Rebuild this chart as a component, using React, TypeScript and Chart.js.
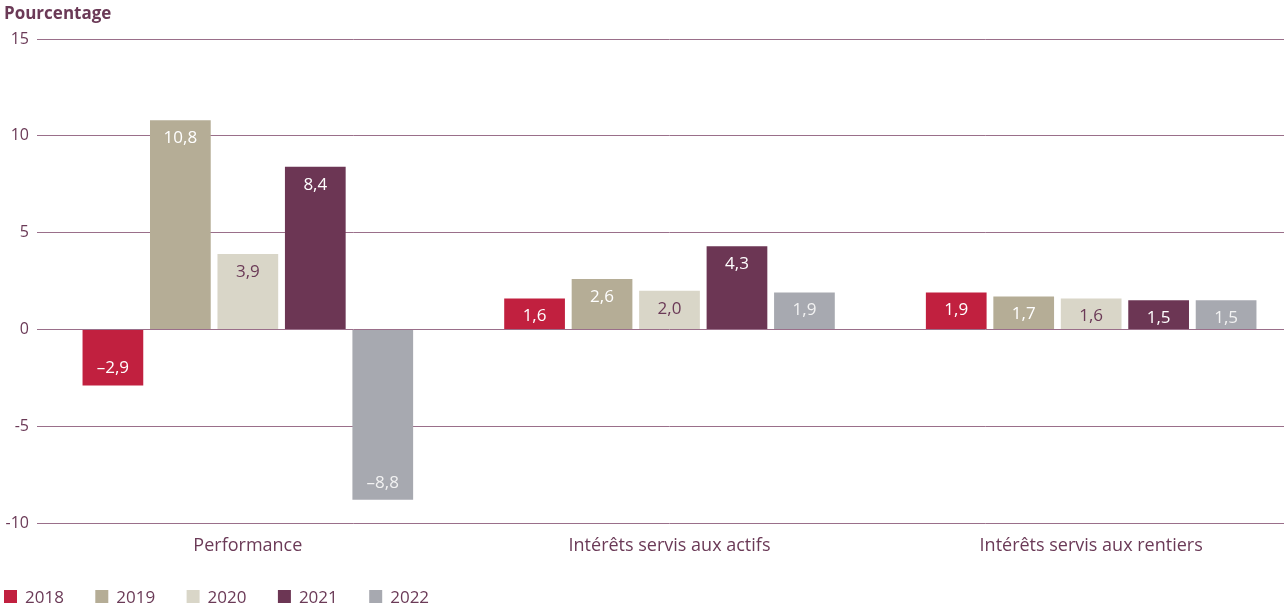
import React, { useEffect, useRef } from "react";
import { Chart, registerables } from "chart.js";

Chart.register(...registerables);

const categories = ["Performance", "Intérêts servis aux actifs", "Intérêts servis aux rentiers"];
const years = ["2018", "2019", "2020", "2021", "2022"];
const v2018 = [-2.9, 1.6, 1.9];
const v2019 = [10.8, 2.6, 1.7];
const v2020 = [3.9, 2.0, 1.6];
const v2021 = [8.4, 4.3, 1.5];
const v2022 = [-8.8, 1.9, 1.5];
const barColors = ["#c1203f", "#b5ad96", "#d9d6c8", "#6c3654", "#a7a9b0"];
const labelColors = ["#ffffff", "#ffffff", "#6b3a57", "#ffffff", "#f2f2f2"];
const yTicks = [15, 10, 5, 0, -5, -10];

const PLUM = "#6b3a57";
const FONT = "'Open Sans', 'Noto Sans', sans-serif";

function fmt(v: number): string {
  const s = Math.abs(v).toFixed(1).replace(".", ",");
  return v < 0 ? "\u2013" + s : s;
}

const overlayPlugin = {
  id: "overlay",
  afterDatasetsDraw(chart: any) {
    const ctx = chart.ctx;
    ctx.save();
    ctx.font = `17px ${FONT}`;
    ctx.textAlign = "center";
    ctx.textBaseline = "middle";
    chart.data.datasets.forEach((ds: any, di: number) => {
      const meta = chart.getDatasetMeta(di);
      meta.data.forEach((el: any, i: number) => {
        const v = ds.data[i];
        const y = v >= 0 ? el.y + 18 : el.y - 17;
        ctx.fillStyle = labelColors[di];
        ctx.fillText(fmt(v), el.x, y);
      });
    });
    ctx.restore();
  },
  afterDraw(chart: any) {
    const ctx = chart.ctx;
    ctx.save();
    // title
    ctx.fillStyle = PLUM;
    ctx.font = `bold 17px ${FONT}`;
    ctx.textAlign = "left";
    ctx.textBaseline = "alphabetic";
    ctx.fillText("Pourcentage", 4, 19);
    // legend
    ctx.font = `17px ${FONT}`;
    years.forEach((y, i) => {
      const x = 4 + i * 91.3;
      ctx.fillStyle = barColors[i];
      ctx.fillRect(x, 590, 13, 13);
      ctx.fillStyle = PLUM;
      ctx.fillText(y, x + 21, 603);
    });
    ctx.restore();
  },
};

export default function App() {
  const ref = useRef<HTMLCanvasElement | null>(null);
  useEffect(() => {
    if (!ref.current) return;
    const series = [v2018, v2019, v2020, v2021, v2022];
    const chart = new Chart(ref.current, {
      type: "bar",
      data: {
        labels: categories,
        datasets: years.map((y, i) => ({
          label: y,
          data: series[i],
          backgroundColor: barColors[i],
          borderWidth: 0,
          categoryPercentage: 0.8,
          barPercentage: 0.9,
        })),
      },
      options: {
        responsive: false,
        animation: false,
        layout: { padding: { left: 0, right: 8, top: 39, bottom: 0 } },
        plugins: {
          legend: { display: false },
          title: { display: false },
          tooltip: { enabled: false },
        },
        scales: {
          x: {
            grid: { display: false, drawTicks: false },
            border: { display: false },
            ticks: { color: PLUM, font: { family: FONT, size: 18 }, padding: 12 },
            afterFit: (s: any) => {
              s.height = 85;
            },
          },
          y: {
            min: -10,
            max: 15,
            afterBuildTicks: (s: any) => {
              s.ticks = yTicks.map((v) => ({ value: v }));
            },
            grid: { color: "#9a6f8a", lineWidth: 1, drawTicks: false },
            border: { display: false },
            ticks: {
              color: PLUM,
              font: { family: FONT, size: 16 },
              padding: 8,
              callback: (v: any) => String(v),
            },
            afterFit: (s: any) => {
              s.width = 37;
            },
          },
        },
      },
      plugins: [overlayPlugin],
    });
    return () => chart.destroy();
  }, []);
  return (
    <div style={{ position: "fixed", left: 0, top: 0, width: 1284, height: 608, overflow: "hidden", background: "#fff" }}>
      <canvas ref={ref} width={1310} height={608} style={{ width: 1310, height: 608, display: "block" }} />
    </div>
  );
}
